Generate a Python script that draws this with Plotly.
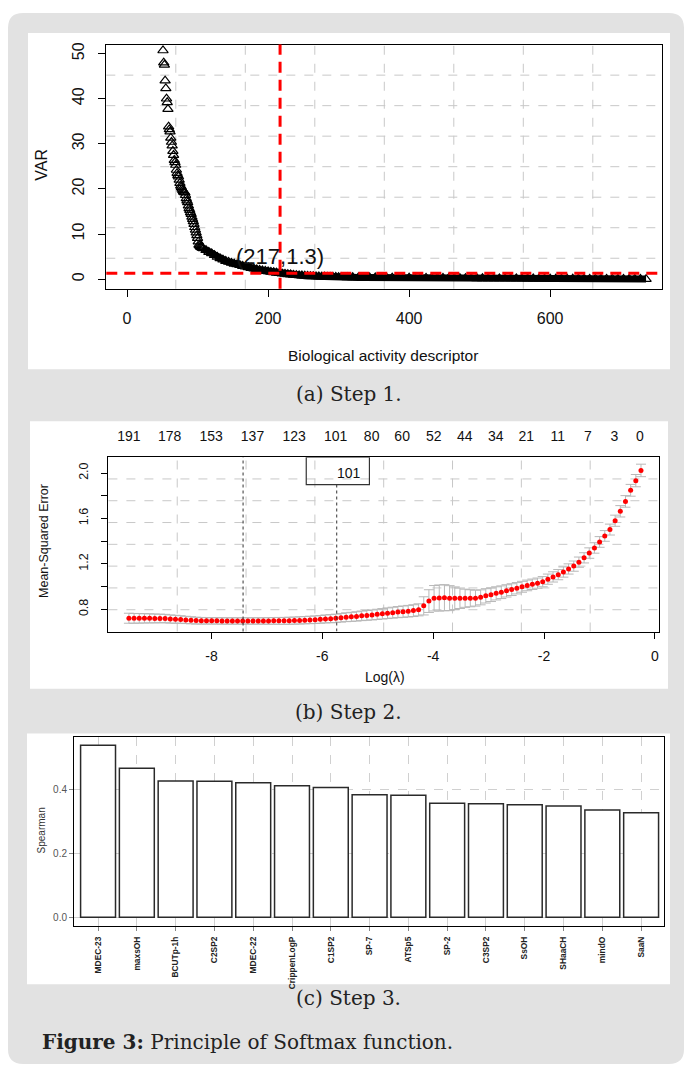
import numpy as np
import plotly.graph_objects as go

W, H = 684, 1065
SANS = "Liberation Sans, Arial, sans-serif"
SERIF = "DejaVu Serif, Liberation Serif, serif"
NARROW = "Liberation Sans Narrow, Arial Narrow, Liberation Sans, sans-serif"


def px(x):
    return x / W


def py(y):
    return 1 - y / H


# ---------------- Panel (a): VAR of each biological activity descriptor ----------------
var_idx = list(range(51, 108)) + list(range(108, 301, 4)) + list(range(304, 737, 8))
var_val = [
    50.7, 48.0, 47.5, 44.0, 42.3, 40.0, 39.2, 37.7, 33.8, 33.2,
    32.7, 31.3, 30.4, 29.6, 28.4, 27.5, 26.4, 25.9, 25.3, 24.2,
    23.5, 23.0, 22.7, 22.0, 21.3, 20.7, 20.4, 20.0, 19.7, 19.4,
    19.3, 19.2, 18.6, 17.9, 17.4, 17.0, 16.3, 15.7, 15.3, 14.8,
    14.4, 13.8, 13.3, 12.8, 12.2, 11.5, 10.9, 10.3, 9.7, 9.1,
    8.3, 7.6, 7.4, 7.2, 7.1, 7.0, 6.9,
    6.8, 6.4, 6.0, 5.7, 5.3, 4.9, 4.6, 4.3, 4.0, 3.8,
    3.6, 3.4, 3.25, 3.1, 2.9, 2.75, 2.6, 2.45, 2.3, 2.15,
    2.0, 1.9, 1.8, 1.7, 1.6, 1.5, 1.4, 1.31, 1.22, 1.14,
    1.07, 1.0, 0.94, 0.88, 0.83, 0.78, 0.74, 0.70, 0.66, 0.63,
    0.60, 0.57, 0.54, 0.52, 0.50, 0.48, 0.46, 0.45, 0.44,
    0.42, 0.40, 0.39, 0.37, 0.36, 0.35, 0.34, 0.33, 0.32, 0.31,
    0.30, 0.29, 0.28, 0.27, 0.26, 0.25, 0.24, 0.24, 0.23, 0.22,
    0.21, 0.21, 0.20, 0.19, 0.18, 0.18, 0.17, 0.16, 0.16, 0.15,
    0.14, 0.14, 0.13, 0.12, 0.12, 0.11, 0.10, 0.10, 0.09, 0.08,
    0.08, 0.07, 0.06, 0.06, 0.05, 0.04, 0.04, 0.03, 0.03, 0.02,
    0.02, 0.01, 0.01, 0.005, 0.0,
]
cut_idx = 217
cut_var = 1.3
a_xticks = [0, 200, 400, 600]
a_yticks = [0, 10, 20, 30, 40, 50]

# ---------------- Panel (b): cross-validated MSE vs log(lambda) ----------------
log_lambda = np.linspace(-9.49, -0.25, 100)
mse = [
    0.721, 0.720, 0.720, 0.720, 0.720, 0.719, 0.719, 0.718, 0.714, 0.712,
    0.710, 0.706, 0.703, 0.700, 0.699,
    0.698, 0.698, 0.698, 0.697, 0.697, 0.697, 0.697, 0.697, 0.697, 0.697,
    0.697, 0.697, 0.697, 0.698, 0.698, 0.698, 0.699,
    0.700, 0.702, 0.704, 0.706, 0.708, 0.711, 0.715, 0.717, 0.720, 0.725,
    0.730, 0.733, 0.737, 0.742, 0.746, 0.750, 0.755, 0.760, 0.765, 0.770,
    0.775, 0.779, 0.783, 0.788, 0.795,
    0.830, 0.872, 0.897, 0.899, 0.902, 0.898, 0.897, 0.897, 0.897, 0.897,
    0.898, 0.905, 0.918, 0.928, 0.940, 0.950, 0.962, 0.973, 0.985, 0.998,
    1.010, 1.020, 1.030, 1.043,
    1.065, 1.085, 1.105, 1.128, 1.155, 1.180, 1.215, 1.253, 1.295, 1.340,
    1.393, 1.446, 1.502, 1.580, 1.663, 1.750, 1.848, 1.933, 2.023,
]
mse_se = [
    0.044, 0.043, 0.042, 0.041, 0.040, 0.039, 0.038, 0.037, 0.036, 0.035,
    0.033, 0.032, 0.031, 0.030, 0.029, 0.028, 0.028, 0.028, 0.028, 0.028,
    0.028, 0.028, 0.028, 0.028, 0.028, 0.028, 0.028, 0.029, 0.029, 0.030,
    0.030,
    0.031, 0.031, 0.032, 0.032, 0.033, 0.033, 0.034, 0.035, 0.036, 0.037,
    0.038, 0.039, 0.040, 0.041, 0.042,
    0.043, 0.044, 0.045, 0.046, 0.047, 0.048, 0.049, 0.050, 0.051, 0.052,
    0.053,
    0.080, 0.100, 0.112, 0.115, 0.115, 0.110, 0.100, 0.090, 0.080, 0.075,
    0.070,
    0.066, 0.063, 0.060, 0.058, 0.056, 0.054, 0.052, 0.050, 0.048, 0.047,
    0.046, 0.045, 0.045,
    0.045, 0.045, 0.045, 0.045, 0.045, 0.045, 0.045, 0.045, 0.046, 0.046,
    0.047, 0.047, 0.048, 0.049, 0.050, 0.051, 0.052, 0.054, 0.055,
]
nz_pos = [-9.49, -8.756, -8.007, -7.26, -6.51, -5.76, -5.11, -4.56, -3.99,
          -3.43, -2.87, -2.32, -1.75, -1.21, -0.73, -0.27]
nz_lab = ["191", "178", "153", "137", "123", "101", "80", "60", "52", "44",
          "34", "21", "11", "7", "3", "0"]
lam_min = -7.43
lam_1se = -5.74
lam_1se_label = "101"
b_xticks = [-8, -6, -4, -2, 0]
b_xtext = ["-8", "-6", "-4", "-2", "0"]
b_yticks = [0.8, 1.0, 1.2, 1.4, 1.6, 1.8, 2.0]
b_ytext = ["0.8", "", "1.2", "", "1.6", "", "2.0"]

# ---------------- Panel (c): Spearman correlation of top descriptors ----------------
descriptors = ["MDEC-23", "maxsOH", "BCUTp-1h", "C2SP2", "MDEC-22", "CrippenLogP",
               "C1SP2", "SP-7", "ATSp5", "SP-2", "C3SP2", "SsOH", "SHaaCH",
               "mindO", "SaaN"]
spearman = [0.540, 0.468, 0.428, 0.427, 0.422, 0.4125, 0.407, 0.385, 0.383,
            0.358, 0.356, 0.353, 0.349, 0.337, 0.328]
c_yticks = [0.0, 0.2, 0.4]
c_ytext = ["0.0", "0.2", "0.4"]

assert len(var_idx) == len(var_val)
assert len(mse) == len(mse_se) == len(log_lambda)

# ---------------- geometry (pixels) ----------------
A_BOX = (106.3, 662.3, 42.7, 287.3)   # left, right, top, bottom
B_BOX = (108.4, 659.0, 456.0, 630.7)
C_BOX = (74.0, 664.0, 736.0, 926.0)
A_XR = [-29.4, 759.0]
A_YR = [-2.14, 52.0]
B_XR = [-9.86, 0.075]
B_YR = [0.604, 2.14]

fig = go.Figure()

# Panel (a) traces
band_x = [x for x in var_idx if x >= 107]
band_y = [v for x, v in zip(var_idx, var_val) if x >= 107]
fig.add_trace(go.Scatter(x=band_x, y=band_y, mode="lines",
                         line=dict(color="black", width=7),
                         xaxis="x", yaxis="y", hoverinfo="skip", showlegend=False))
fig.add_trace(go.Scatter(x=var_idx, y=var_val, mode="markers",
                         marker=dict(symbol="triangle-up-open", size=9, color="black",
                                     line=dict(width=1.2, color="black")),
                         xaxis="x", yaxis="y", showlegend=False))

# Panel (b) traces
fig.add_trace(go.Scatter(x=log_lambda, y=mse, mode="markers",
                         marker=dict(symbol="circle", size=5, color="#ff0000"),
                         error_y=dict(type="data", array=mse_se, color="#b8b8b8",
                                      thickness=1, width=5),
                         xaxis="x2", yaxis="y2", showlegend=False))
fig.add_trace(go.Scatter(x=[nz_pos[0]], y=[1.0], mode="markers",
                         marker=dict(opacity=0), xaxis="x3", yaxis="y2",
                         showlegend=False, hoverinfo="skip"))

# Panel (c) trace
fig.add_trace(go.Bar(x=descriptors, y=spearman,
                     marker=dict(color="white", line=dict(color="#2a2a2a", width=1.5)),
                     xaxis="x4", yaxis="y4", showlegend=False))

shapes = []


def rounded_rect(x0, y0, x1, y1, r):
    X = lambda v: f"{px(v):.5f}"
    Y = lambda v: f"{py(v):.5f}"
    return (f"M {X(x0 + r)} {Y(y0)} L {X(x1 - r)} {Y(y0)} Q {X(x1)} {Y(y0)} {X(x1)} {Y(y0 + r)} "
            f"L {X(x1)} {Y(y1 - r)} Q {X(x1)} {Y(y1)} {X(x1 - r)} {Y(y1)} "
            f"L {X(x0 + r)} {Y(y1)} Q {X(x0)} {Y(y1)} {X(x0)} {Y(y1 - r)} "
            f"L {X(x0)} {Y(y0 + r)} Q {X(x0)} {Y(y0)} {X(x0 + r)} {Y(y0)} Z")


shapes.append(dict(type="path", xref="paper", yref="paper", layer="below",
                   path=rounded_rect(8, 11, 684, 1064, 15),
                   fillcolor="#e2e2e2", line=dict(width=0)))
for (l, t, r, b) in [(28, 31, 670, 368), (30, 420, 668, 688), (27, 733, 670, 984)]:
    shapes.append(dict(type="rect", xref="paper", yref="paper", layer="below",
                       x0=px(l), x1=px(r), y0=py(b), y1=py(t),
                       fillcolor="white", line=dict(width=0)))

GRID = dict(color="#c8c8c8", width=1, dash="dash")
# grid (a): 8 equal cells
for k in range(1, 8):
    gx = A_XR[0] + k * (A_XR[1] - A_XR[0]) / 8
    gy = A_YR[0] + k * (A_YR[1] - A_YR[0]) / 8
    shapes.append(dict(type="line", xref="x", yref="y domain", x0=gx, x1=gx, y0=0, y1=1,
                       line=GRID, layer="below"))
    shapes.append(dict(type="line", xref="x domain", yref="y", x0=0, x1=1, y0=gy, y1=gy,
                       line=GRID, layer="below"))
# grid (b)
for k in range(1, 8):
    gx = B_XR[0] + k * (B_XR[1] - B_XR[0]) / 8
    gy = B_YR[0] + k * (B_YR[1] - B_YR[0]) / 8
    shapes.append(dict(type="line", xref="x2", yref="y2 domain", x0=gx, x1=gx, y0=0, y1=1,
                       line=GRID, layer="below"))
    shapes.append(dict(type="line", xref="x2 domain", yref="y2", x0=0, x1=1, y0=gy, y1=gy,
                       line=GRID, layer="below"))

# red cut lines (a)
RED = dict(color="#ff0000", width=3, dash="11px,7px")
shapes.append(dict(type="line", xref="x", yref="y domain", x0=cut_idx, x1=cut_idx, y0=0, y1=1,
                   line=RED))
shapes.append(dict(type="line", xref="x domain", yref="y", x0=0, x1=1, y0=cut_var, y1=cut_var,
                   line=RED))

# dotted lambda lines (b)
DOT = dict(color="#333333", width=1, dash="dot")
shapes.append(dict(type="line", xref="x2", yref="y2 domain", x0=lam_min, x1=lam_min, y0=0, y1=1,
                   line=DOT))
shapes.append(dict(type="line", xref="x2", yref="y2", x0=lam_1se, x1=lam_1se, y0=B_YR[0], y1=1.898,
                   line=DOT))
shapes.append(dict(type="rect", xref="x2", yref="y2", x0=-6.29, x1=-5.15, y0=1.898, y1=B_YR[1],
                   line=dict(color="#333333", width=1.2), fillcolor="rgba(0,0,0,0)"))


def ann(text, x, y, size, family=SANS, color="#111", angle=0, xanchor="center",
        xref="paper", yref="paper"):
    if xref == "paper":
        x = px(x)
    if yref == "paper":
        y = py(y)
    return dict(text=text, x=x, y=y, xref=xref, yref=yref, showarrow=False,
                xanchor=xanchor, yanchor="middle", textangle=angle,
                font=dict(family=family, size=size, color=color))


annotations = [
    ann(f"({cut_idx},{cut_var})", cut_idx, 5.0, 22, xref="x", yref="y"),
    ann("Biological activity descriptor", 383, 354, 15.5),
    ann("VAR", 42, 163, 16, angle=-90),
    ann(lam_1se_label, -5.52, 2.0, 14, xref="x2", yref="y2"),
    ann("Log(λ)", 385, 676, 14),
    ann("Mean-Squared Error", 44, 540, 12.5, angle=-90),
    ann("Spearman", 41, 830, 10, color="#333", angle=-90),
    ann("(a) Step 1.", 349, 393, 20, family=SERIF, color="#222"),
    ann("(b) Step 2.", 349, 711, 20, family=SERIF, color="#222"),
    ann("(c) Step 3.", 349, 998, 20, family=SERIF, color="#222"),
    ann("<b>Figure 3:</b> Principle of Softmax function.", 40, 1042, 20, family=SERIF,
        color="#222", xanchor="left"),
]

AX = dict(showline=True, mirror=True, linecolor="black", linewidth=1, ticks="outside",
          tickcolor="black", showgrid=False, zeroline=False)

fig.update_layout(
    width=W, height=H, autosize=False,
    margin=dict(l=0, r=0, t=0, b=0),
    paper_bgcolor="white", plot_bgcolor="white",
    showlegend=False, shapes=shapes, annotations=annotations,
    bargap=0.1,
    xaxis=dict(AX, domain=[px(A_BOX[0]), px(A_BOX[1])], range=A_XR, anchor="y",
               tickvals=a_xticks, ticklen=7, ticklabelstandoff=8,
               tickfont=dict(family=SANS, size=16, color="#111")),
    yaxis=dict(AX, domain=[py(A_BOX[3]), py(A_BOX[2])], range=A_YR, anchor="x",
               tickvals=a_yticks, tickangle=-90, ticklen=7, ticklabelstandoff=8,
               tickfont=dict(family=SANS, size=16, color="#111")),
    xaxis2=dict(AX, domain=[px(B_BOX[0]), px(B_BOX[1])], range=B_XR, anchor="y2",
                tickvals=b_xticks, ticktext=b_xtext, ticklen=6, ticklabelstandoff=6,
                tickfont=dict(family=SANS, size=14, color="#111")),
    yaxis2=dict(AX, domain=[py(B_BOX[3]), py(B_BOX[2])], range=B_YR, anchor="x2",
                tickvals=b_yticks, ticktext=b_ytext, tickangle=-90, ticklen=6,
                ticklabelstandoff=8, tickfont=dict(family=SANS, size=12.5, color="#111")),
    xaxis3=dict(domain=[px(B_BOX[0]), px(B_BOX[1])], range=B_XR, anchor="y2",
                overlaying="x2", side="top", tickvals=nz_pos, ticktext=nz_lab, ticks="",
                showline=False, showgrid=False, zeroline=False, ticklabelstandoff=12,
                tickfont=dict(family=SANS, size=14, color="#111")),
    xaxis4=dict(AX, domain=[px(C_BOX[0]), px(C_BOX[1])], range=[-0.62, 14.59], anchor="y4",
                type="category", tickangle=-90, ticklen=4, tickcolor="#888",
                ticklabelstandoff=2,
                showgrid=True, gridcolor="#d0d0d0", griddash="dash", gridwidth=1,
                tickfont=dict(family=NARROW, size=8.4, color="#222", weight="bold")),
    yaxis4=dict(AX, domain=[py(C_BOX[3]), py(C_BOX[2])], range=[-0.028, 0.567], anchor="x4",
                tickvals=c_yticks, ticktext=c_ytext, ticklen=4, tickcolor="#888",
                showgrid=True, gridcolor="#d0d0d0", griddash="dash", gridwidth=1,
                tickfont=dict(family=SANS, size=10, color="#555")),
)

fig.write_html("out.html", config={"displayModeBar": False},
               post_script="document.body.style.margin='0';")
